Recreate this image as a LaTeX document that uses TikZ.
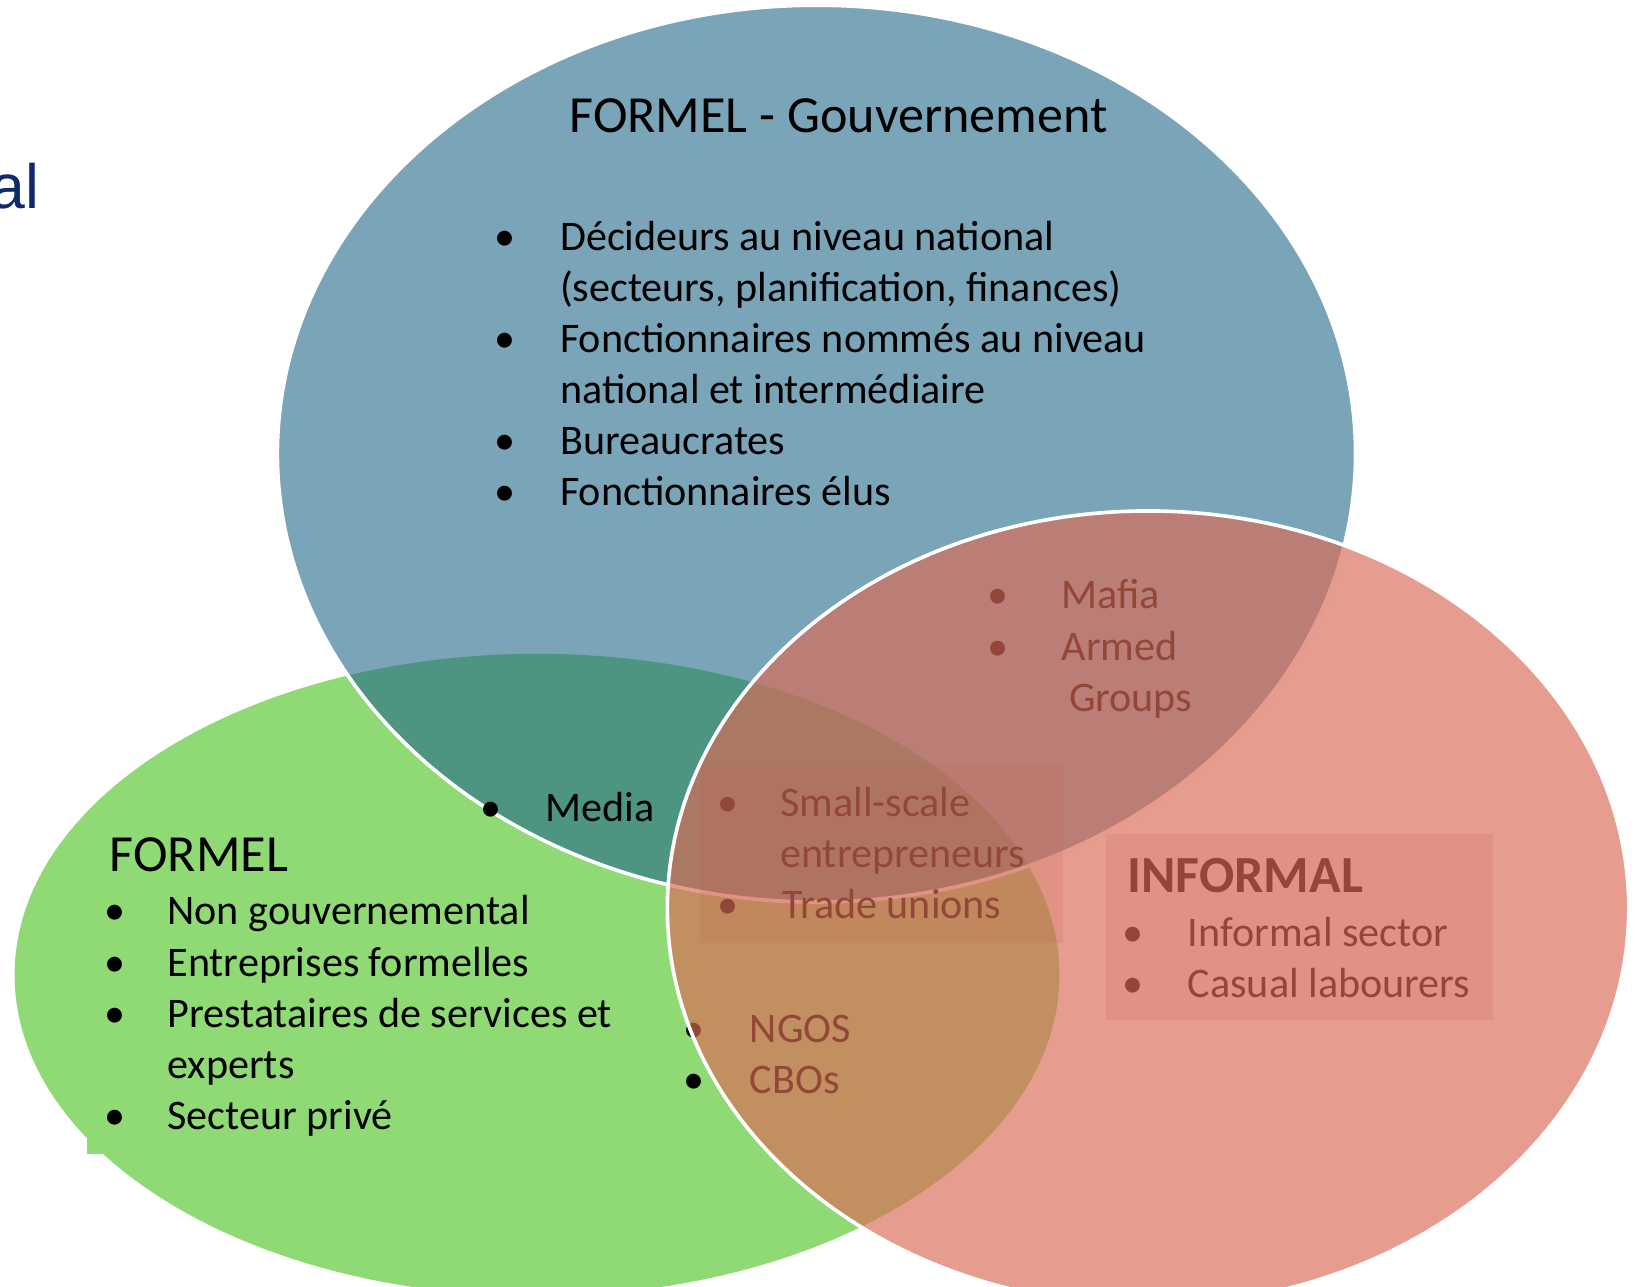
\documentclass[tikz,border=0pt]{standalone}
\usepackage{fontspec}
\setmainfont{Carlito}
\newfontfamily\arialfont{Liberation Sans}
\usetikzlibrary{shapes.geometric}
\definecolor{vgreen}{RGB}{143,218,117}
\definecolor{vblue}{RGB}{33,103,137}
\definecolor{vred}{RGB}{218,107,86}
\definecolor{boxred}{RGB}{160,70,60}
\definecolor{navy}{RGB}{14,42,104}
\begin{document}
\begin{tikzpicture}[x=1pt,y=-1pt,
  setshape/.style={ellipse, inner sep=0pt, outer sep=0pt},
  txt/.style={anchor=base west, inner sep=0pt, font=\fontsize{40.4}{49}\selectfont},
  head/.style={anchor=base west, inner sep=0pt, font=\fontsize{50}{60}\selectfont},
  bul/.style={anchor=base, inner sep=0pt, font=\fontsize{40.4}{49}\selectfont},
  tbox/.style={fill=boxred, fill opacity=0.15, draw=none, inner sep=0pt, outer sep=0pt, anchor=north west}]

\useasboundingbox (0,0) rectangle (1568,1234);
\clip (0,0) rectangle (1568,1234);

% green text-box background (its corner shows below the ellipse)
\node[fill=vgreen, inner sep=0pt, outer sep=0pt, anchor=north west, minimum width=317pt, minimum height=287pt] (greenrect) at (83,820) {};

% green set
\node[setshape, fill=vgreen, minimum width=1002pt, minimum height=616pt] (green) at (515,935) {};

% blue set
\node[setshape, fill=vblue, fill opacity=0.6, draw=white, line width=3.5pt, minimum width=1034pt, minimum height=860pt] (blue) at (783,435) {};

% blue texts
\node[head] (tgov) at (546,127) {FORMEL - Gouvernement};
\node[bul] (b1) at (484,240) {\textbullet};
\node[txt] (g1) at (537,240) {Décideurs au niveau national};
\node[txt] (g2) at (537,289) {(secteurs, planification, finances)};
\node[bul] (b2) at (484,338) {\textbullet};
\node[txt] (g3) at (537,338) {Fonctionnaires nommés au niveau};
\node[txt] (g4) at (537,387) {national et intermédiaire};
\node[bul] (b3) at (484,436) {\textbullet};
\node[txt] (g5) at (537,436) {Bureaucrates};
\node[bul] (b4) at (484,485) {\textbullet};
\node[txt] (g6) at (537,485) {Fonctionnaires élus};

% green texts
\node[head] (tform) at (105,836) {FORMEL};
\node[bul] (f1b) at (110,887) {\textbullet};
\node[txt] (f1) at (160.5,887) {Non gouvernemental};
\node[bul] (f2b) at (110,936) {\textbullet};
\node[txt] (f2) at (160.5,936) {Entreprises formelles};
\node[bul] (f3b) at (110,985) {\textbullet};
\node[txt] (f3) at (160.5,985) {Prestataires de services et};
\node[txt] (f4) at (160.5,1034) {experts};
\node[bul] (f5b) at (110,1083) {\textbullet};
\node[txt] (f5) at (160.5,1083) {Secteur privé};

% media
\node[bul] (mb) at (471,788) {\textbullet};
\node[txt] (media) at (523,788) {Media};

% translucent text boxes
\node[tbox, minimum width=348pt, minimum height=169pt] (box1) at (671,735) {};
\node[tbox, minimum width=371pt, minimum height=178pt] (box2) at (1061,800) {};

% texts seen through the red set
\node[bul] (mab) at (957,584) {\textbullet};
\node[txt] (mafia) at (1018,584) {Mafia};
\node[bul] (arb) at (957,633) {\textbullet};
\node[txt] (armed) at (1018,633) {Armed};
\node[txt] (groups) at (1025,682) {Groups};

\node[bul] (ssb) at (698,783) {\textbullet};
\node[txt] (ss1) at (748,783) {Small-scale};
\node[txt] (ss2) at (748,832) {entrepreneurs};
\node[bul] (tub) at (698,881) {\textbullet};
\node[txt] (tu) at (750,881) {Trade unions};

\node[bul] (ngb) at (666,1000) {\textbullet};
\node[txt] (ngo) at (719,1000) {NGOS};
\node[bul] (cbb) at (666,1049) {\textbullet};
\node[txt] (cbo) at (719,1049) {CBOs};

\node[head, font=\fontsize{50}{60}\selectfont\bfseries] (tinf) at (1081,856) {INFORMAL};
\node[bul] (i1b) at (1087,908) {\textbullet};
\node[txt] (i1) at (1139,908) {Informal sector};
\node[bul] (i2b) at (1087,957) {\textbullet};
\node[txt] (i2) at (1139,957) {Casual labourers};

% red set on top
\node[setshape, fill=vred, fill opacity=0.67, draw=white, line width=3.5pt, minimum width=922pt, minimum height=762pt] (red) at (1101,871) {};

% cut-off slide title
\node[anchor=base west, inner sep=0pt, text=navy, font=\arialfont\fontsize{60}{72}\selectfont] (al) at (-9,200) {al};
\end{tikzpicture}
\end{document}
